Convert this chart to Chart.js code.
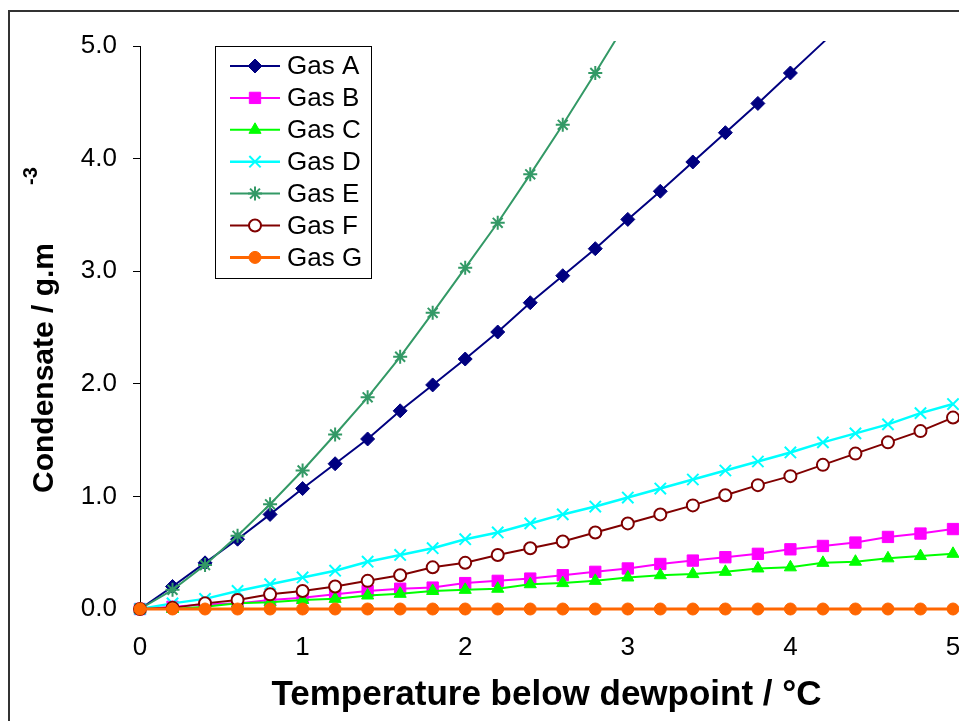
<!DOCTYPE html>
<html>
<head>
<meta charset="utf-8">
<title>Condensate below dewpoint</title>
<script src="https://cdn.jsdelivr.net/npm/chart.js@4.4.1/dist/chart.umd.min.js"></script>
<style>
  body { margin: 0; background: #fff; }
  canvas { display: block; }
</style>
</head>
<body>
<canvas id="chart" width="959" height="721"></canvas>
<script>
// temperature below dewpoint, °C
const temps = [0, 0.2, 0.4, 0.6, 0.8, 1.0, 1.2, 1.4, 1.6, 1.8, 2.0, 2.2, 2.4, 2.6, 2.8, 3.0, 3.2, 3.4, 3.6, 3.8, 4.0, 4.2, 4.4, 4.6, 4.8, 5.0];

// condensate, g.m-3 (A and E run off the top of the plot)
const gasA = [0, 0.20, 0.41, 0.62, 0.84, 1.07, 1.29, 1.51, 1.76, 1.99, 2.22, 2.46, 2.72, 2.96, 3.20, 3.46, 3.71, 3.97, 4.23, 4.49, 4.76, 5.03, 5.31];
const gasB = [0, 0.02, 0.04, 0.05, 0.08, 0.10, 0.13, 0.16, 0.18, 0.19, 0.23, 0.25, 0.27, 0.30, 0.33, 0.36, 0.40, 0.43, 0.46, 0.49, 0.53, 0.56, 0.59, 0.64, 0.67, 0.71];
const gasC = [0, 0.00, 0.02, 0.05, 0.06, 0.08, 0.09, 0.12, 0.135, 0.16, 0.17, 0.18, 0.22, 0.23, 0.25, 0.28, 0.30, 0.31, 0.33, 0.36, 0.37, 0.41, 0.42, 0.45, 0.47, 0.49];
const gasD = [0, 0.05, 0.09, 0.16, 0.22, 0.28, 0.34, 0.42, 0.48, 0.54, 0.62, 0.68, 0.76, 0.84, 0.91, 0.99, 1.07, 1.15, 1.23, 1.31, 1.39, 1.48, 1.56, 1.64, 1.74, 1.82];
const gasE = [0, 0.17, 0.39, 0.65, 0.93, 1.23, 1.55, 1.88, 2.24, 2.63, 3.03, 3.43, 3.86, 4.30, 4.76, 5.23];
const gasF = [0, 0.01, 0.05, 0.08, 0.13, 0.16, 0.20, 0.25, 0.30, 0.37, 0.41, 0.48, 0.54, 0.60, 0.68, 0.76, 0.84, 0.92, 1.01, 1.10, 1.18, 1.28, 1.38, 1.48, 1.58, 1.70];
const gasG = [0, 0, 0, 0, 0, 0, 0, 0, 0, 0, 0, 0, 0, 0, 0, 0, 0, 0, 0, 0, 0, 0, 0, 0, 0, 0];

const yMax = 5;
const fontFamily = "'Liberation Sans', Arial, sans-serif";

function series(label, values, color, style, r, fill, lineW, markW, order) {
  return {
    label: label,
    data: values.map((v, i) => ({ x: temps[i], y: v })),
    borderColor: color,
    borderWidth: lineW,
    pointStyle: style,
    pointBackgroundColor: fill,
    pointBorderColor: color,
    pointBorderWidth: markW,
    legendRadius: r,
    // markers above the axis max are not shown, only the line
    pointRadius: c => (c.raw && c.raw.y > yMax ? 0 : r),
    pointHoverRadius: r,
    tension: 0,
    clip: { left: 10, top: 5, right: 10, bottom: 10 },
    order: order
  };
}

const datasets = [
  series('Gas A', gasA, '#000080', 'rectRot', 7, '#000080', 2, 1, 6),
  series('Gas B', gasB, '#FF00FF', 'rect', 8, '#FF00FF', 2, 1, 5),
  series('Gas C', gasC, '#00FF00', 'triangle', 7, '#00FF00', 2, 1, 4),
  series('Gas D', gasD, '#00FFFF', 'crossRot', 8, '#00FFFF', 2.5, 2, 3),
  series('Gas E', gasE, '#339966', 'star', 7, '#339966', 2, 2, 2),
  series('Gas F', gasF, '#800000', 'circle', 6, '#FFFFFF', 2, 2, 1),
  series('Gas G', gasG, '#FF6600', 'circle', 6, '#FF6600', 3, 1, 0)
];

// outer frame of the chart object
const frame = {
  id: 'frame',
  afterDraw(chart) {
    const ctx = chart.ctx;
    ctx.save();
    ctx.strokeStyle = '#333';
    ctx.lineWidth = 2;
    ctx.strokeRect(9, 11, 1000, 800);
    ctx.restore();
  }
};

// y title with superscript unit
const yTitle = {
  id: 'yTitle',
  afterDraw(chart) {
    const ctx = chart.ctx;
    ctx.save();
    ctx.translate(45, 493);
    ctx.rotate(-Math.PI / 2);
    ctx.fillStyle = '#000';
    ctx.textAlign = 'left';
    ctx.textBaseline = 'middle';
    ctx.font = 'bold 30px ' + fontFamily;
    ctx.fillText('Condensate / g.m', 0, 0);
    ctx.font = 'bold 20px ' + fontFamily;
    ctx.fillText('-3', 308, -14);
    ctx.restore();
  }
};

// boxed legend inside the plot
const boxLegend = {
  id: 'boxLegend',
  afterDraw(chart) {
    const ctx = chart.ctx;
    const x0 = 215, y0 = 46, w = 156, h = 232;
    ctx.save();
    ctx.fillStyle = '#fff';
    ctx.fillRect(x0, y0, w, h);
    ctx.strokeStyle = '#000';
    ctx.lineWidth = 1;
    ctx.strokeRect(x0 + 0.5, y0 + 0.5, w, h);
    chart.data.datasets.forEach((ds, i) => {
      const y = y0 + 20 + i * 31.9;
      ctx.strokeStyle = ds.borderColor;
      ctx.lineWidth = ds.borderWidth;
      ctx.beginPath();
      ctx.moveTo(x0 + 15, y);
      ctx.lineTo(x0 + 65, y);
      ctx.stroke();
      ctx.fillStyle = ds.pointBackgroundColor;
      ctx.strokeStyle = ds.pointBorderColor;
      ctx.lineWidth = ds.pointBorderWidth;
      Chart.helpers.drawPoint(ctx, { pointStyle: ds.pointStyle, radius: ds.legendRadius, borderWidth: ds.pointBorderWidth, rotation: 0 }, x0 + 40, y);
      ctx.fillStyle = '#000';
      ctx.font = '26px ' + fontFamily;
      ctx.textAlign = 'left';
      ctx.textBaseline = 'middle';
      ctx.fillText(ds.label, x0 + 72, y + 1);
    });
    ctx.restore();
  }
};

Chart.defaults.font.family = fontFamily;
Chart.defaults.color = '#000';

const chart = document.querySelector('#chart').getContext('2d');

new Chart(chart, {
  type: 'line',
  data: { datasets: datasets },
  options: {
    responsive: false,
    animation: false,
    layout: { autoPadding: false, padding: { top: 46, right: 6, bottom: 0, left: 0 } },
    plugins: {
      legend: { display: false },
      tooltip: { enabled: false }
    },
    scales: {
      x: {
        type: 'linear',
        min: 0,
        max: 5,
        ticks: { stepSize: 1, color: '#000', font: { size: 26 }, padding: 17, maxRotation: 0 },
        grid: { drawOnChartArea: false, drawTicks: true, tickLength: 6, color: '#000' },
        border: { color: '#000', width: 1 },
        title: {
          display: true,
          text: 'Temperature below dewpoint / °C',
          color: '#000',
          font: { size: 35, weight: 'bold' },
          padding: { top: 0, bottom: 5 }
        },
        afterFit(s) { s.height = 112; s.paddingLeft = 0; s.paddingRight = 0; }
      },
      y: {
        min: 0,
        max: yMax,
        ticks: { stepSize: 1, color: '#000', font: { size: 26 }, padding: 16, callback: v => v.toFixed(1) },
        grid: { drawOnChartArea: false, drawTicks: true, tickLength: 7, color: '#000' },
        border: { color: '#000', width: 1 },
        afterFit(s) { s.width = 140; s.paddingTop = 0; s.paddingBottom = 0; }
      }
    }
  },
  plugins: [frame, yTitle, boxLegend]
});
</script>
</body>
</html>
